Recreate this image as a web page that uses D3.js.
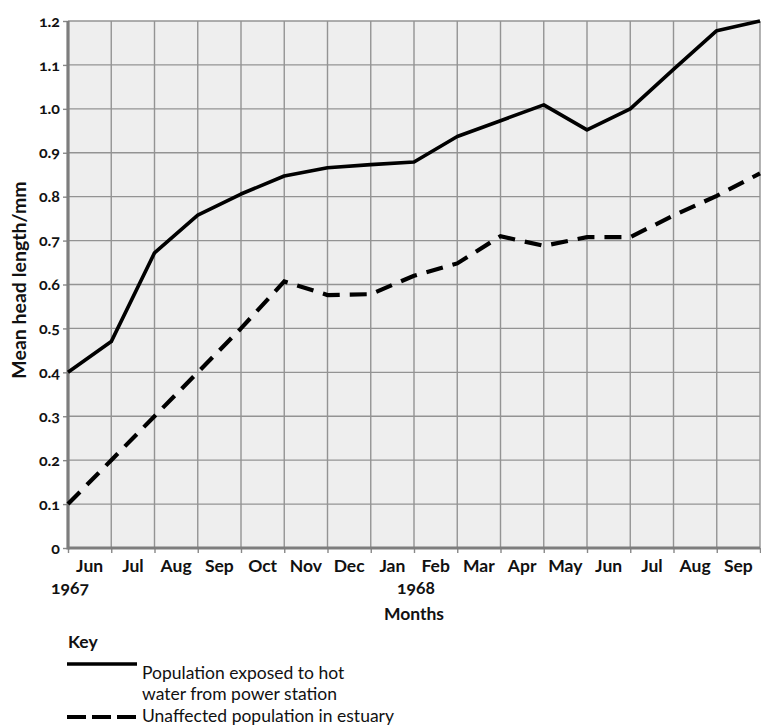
<!DOCTYPE html>
<html>
<head>
<meta charset="utf-8">
<script src="https://cdn.jsdelivr.net/npm/d3@7"></script>
<style>
  html, body { margin: 0; padding: 0; background: #fff; }
  svg { display: block; }
  text { font-family: Lato, "Open Sans", sans-serif; font-variant-numeric: oldstyle-nums; fill: #111; }
</style>
</head>
<body>
<svg id="chart" width="761" height="727"></svg>
<script>
// ---- Data ----
const monthLabels = ["Jun","Jul","Aug","Sep","Oct","Nov","Dec","Jan","Feb","Mar","Apr","May","Jun","Jul","Aug","Sep"];
const yearLabels = [{pos: 0, label: "1967"}, {pos: 8, label: "1968"}];
const exposedValues = [0.40, 0.47, 0.672, 0.758, 0.806, 0.847, 0.866, 0.873, 0.879, 0.937, 0.973, 1.009, 0.952, 1.0, 1.09, 1.178, 1.20];
const unaffectedValues = [0.10, 0.20, 0.30, 0.40, 0.50, 0.607, 0.576, 0.578, 0.62, 0.648, 0.71, 0.688, 0.708, 0.708, 0.757, 0.802, 0.853];
const yTicks = [0, 0.1, 0.2, 0.3, 0.4, 0.5, 0.6, 0.7, 0.8, 0.9, 1.0, 1.1, 1.2];
const seriesNames = ["Population exposed to hot", "water from power station", "Unaffected population in estuary"];

const svg = d3.select("#chart");
const x = d3.scaleLinear().domain([0, monthLabels.length]).range([68, 760]);
const y = d3.scaleLinear().domain([0, 1.2]).range([548, 21]);

// background
svg.append("rect")
  .attr("x", x(0)).attr("y", y(1.2))
  .attr("width", x(16) - x(0)).attr("height", y(0) - y(1.2))
  .attr("fill", "#eeeeee");

// grid
const grid = svg.append("g").attr("stroke", "#939393").attr("stroke-width", 1.4);
grid.selectAll("line.h").data(yTicks).join("line")
  .attr("x1", x(0)).attr("x2", x(16))
  .attr("y1", d => y(d)).attr("y2", d => y(d));
grid.selectAll("line.v").data(d3.range(0, 17)).join("line")
  .attr("x1", d => x(d)).attr("x2", d => x(d))
  .attr("y1", y(1.2)).attr("y2", y(0));

// axes
const yAxis = d3.axisLeft(y).tickValues(yTicks)
  .tickFormat(d => d === 0 ? "0" : d3.format(".1f")(d))
  .tickSize(5).tickPadding(3);
const gy = svg.append("g").attr("transform", `translate(${x(0)},0)`).call(yAxis);
gy.select(".domain").remove();
gy.selectAll(".tick line").attr("stroke", "#888").attr("stroke-width", 1.4);
gy.selectAll(".tick text").attr("font-size", 16).attr("font-weight", 700).attr("fill", "#111");

const xAxis = d3.axisBottom(x).tickValues(d3.range(0, 17)).tickFormat("").tickSize(5);
const gx = svg.append("g").attr("transform", `translate(0,${y(0)})`).call(xAxis);
gx.select(".domain").remove();
gx.selectAll(".tick line").attr("stroke", "#888").attr("stroke-width", 1.4);

// thick axis lines
svg.append("line").attr("x1", x(0)).attr("x2", x(0)).attr("y1", y(1.2)).attr("y2", y(0) + 1.5)
  .attr("stroke", "#7d7d7d").attr("stroke-width", 3.2);
svg.append("line").attr("x1", x(0)).attr("x2", x(16)).attr("y1", y(0)).attr("y2", y(0))
  .attr("stroke", "#7d7d7d").attr("stroke-width", 3.2);

// month labels
svg.append("g").selectAll("text").data(monthLabels).join("text")
  .attr("x", (d, i) => x(i + 0.5)).attr("y", 572)
  .attr("text-anchor", "middle").attr("font-size", 17.5).attr("font-weight", 700)
  .text(d => d);
svg.append("g").selectAll("text").data(yearLabels).join("text")
  .attr("x", d => x(d.pos) + 2).attr("y", 594)
  .attr("text-anchor", "middle").attr("font-size", 17.5).attr("font-weight", 700)
  .text(d => d.label);
svg.append("text").attr("x", x(8)).attr("y", 620)
  .attr("text-anchor", "middle").attr("font-size", 17.5).attr("font-weight", 700)
  .text("Months");
svg.append("text")
  .attr("transform", `translate(26,280) rotate(-90)`)
  .attr("text-anchor", "middle").attr("font-size", 19.5).attr("font-weight", 700)
  .text("Mean head length/mm");

// lines
const line = d3.line().x((d, i) => x(i)).y(d => y(d));
svg.append("path").datum(unaffectedValues).attr("d", line)
  .attr("fill", "none").attr("stroke", "#000").attr("stroke-width", 4.2)
  .attr("stroke-dasharray", "17,10");
svg.append("path").datum(exposedValues).attr("d", line)
  .attr("fill", "none").attr("stroke", "#000").attr("stroke-width", 3.6)
  .attr("stroke-linejoin", "round");

// key
svg.append("text").attr("x", 68).attr("y", 648).attr("font-size", 17.5).attr("font-weight", 700).text("Key");
svg.append("line").attr("x1", 67).attr("x2", 137).attr("y1", 664).attr("y2", 664)
  .attr("stroke", "#000").attr("stroke-width", 3.6);
svg.append("text").attr("x", 142).attr("y", 679).attr("font-size", 17.5).text(seriesNames[0]);
svg.append("text").attr("x", 142).attr("y", 700).attr("font-size", 17.5).text(seriesNames[1]);
svg.append("line").attr("x1", 67).attr("x2", 137).attr("y1", 717).attr("y2", 717)
  .attr("stroke", "#000").attr("stroke-width", 4.2).attr("stroke-dasharray", "19,6");
svg.append("text").attr("x", 142).attr("y", 722).attr("font-size", 17.5).text(seriesNames[2]);
</script>
</body>
</html>
